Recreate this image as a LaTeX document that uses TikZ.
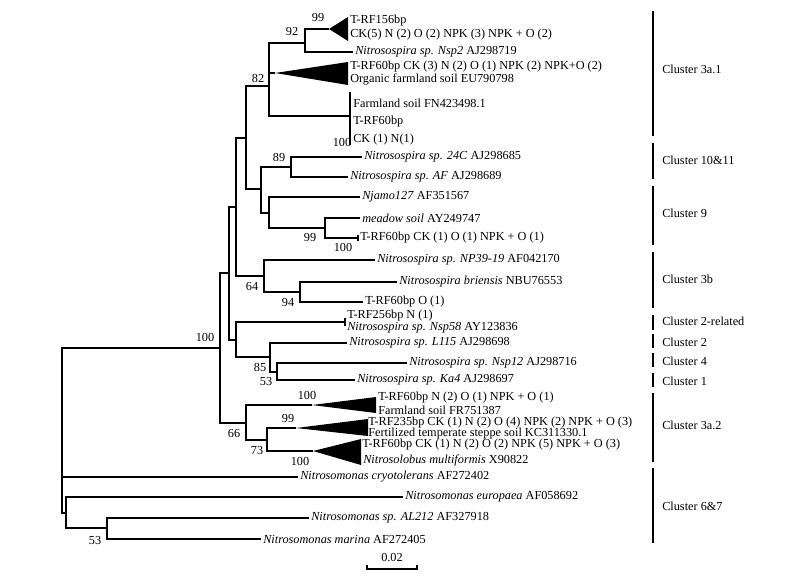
\documentclass[tikz,border=0pt]{standalone}
\usepackage{fontspec}
\setmainfont{Liberation Serif}
\tikzstyle{branch}=[line width=1.2pt]
\tikzstyle{leaf}=[anchor=west,inner sep=1.5pt]
\tikzstyle{boot}=[inner sep=0pt]
\tikzstyle{wedge}=[fill=black]
\tikzstyle{clbar}=[line width=1.3pt]
\tikzstyle{cltext}=[anchor=west,inner sep=0pt]

\begin{document}
\begin{tikzpicture}[x=0.75pt,y=-0.75pt,font=\fontsize{9.2}{11}\selectfont]
\useasboundingbox (0,0) rectangle (800,588);

% internal nodes
\coordinate (root) at (62,430);
\coordinate (nsp) at (220,348);
\coordinate (a229) at (229,273);
\coordinate (a236) at (236,207);
\coordinate (a246) at (246,138);
\coordinate (n82) at (269,86);
\coordinate (n92) at (305,43);
\coordinate (f100) at (350,116);
\coordinate (f100t) at (350,92);
\coordinate (f100b) at (350,145);
\coordinate (a261) at (261,189);
\coordinate (n89) at (291,167);
\coordinate (a269) at (269,213);
\coordinate (n99) at (325,228);
\coordinate (n64) at (264,276);
\coordinate (n94) at (300,292);
\coordinate (c236) at (236,340);
\coordinate (n85) at (270,357);
\coordinate (n53) at (277,372);
\coordinate (n66) at (246,423);
\coordinate (n73) at (267,440);
\coordinate (n66b) at (66,513);
\coordinate (m53) at (107,528);

% collapsed subtrees
\coordinate (triA) at (329,29);
\coordinate (triB) at (275,73);
\coordinate (tri1) at (312,405);
\coordinate (tri2) at (296,428);
\coordinate (tri3) at (313,451);
\fill[wedge] (triA) -- (348,17) -- (348,41) -- cycle;
\fill[wedge] (triB) -- (348,62) -- (348,85) -- cycle;
\fill[wedge] (tri1) -- (376,397) -- (376,413) -- cycle;
\fill[wedge] (tri2) -- (368,419) -- (368,436) -- cycle;
\fill[wedge] (tri3) -- (361,439) -- (361,465) -- cycle;

% leaves
\node[leaf] (triAa) at (348,21) {T-RF156bp};
\node[leaf] (triAb) at (348,35) {CK(5) N (2) O (2) NPK (3) NPK + O (2)};
\node[leaf] (nsp2) at (353,52) {\textit{Nitrosospira sp. Nsp2} AJ298719};
\node[leaf] (triBa) at (348,67) {T-RF60bp CK (3) N (2) O (1) NPK (2) NPK+O (2)};
\node[leaf] (triBb) at (348,80) {Organic farmland soil EU790798};
\node[leaf] (farm) at (351,103) {Farmland soil FN423498.1};
\node[leaf] (farmb) at (351,122) {T-RF60bp};
\node[leaf] (farmc) at (351,140) {CK (1) N(1)};
\node[leaf] (s24c) at (362,157) {\textit{Nitrosospira sp. 24C} AJ298685};
\node[leaf] (saf) at (348,177) {\textit{Nitrosospira sp. AF} AJ298689};
\node[leaf] (njamo) at (360,197) {\textit{Njamo127} AF351567};
\node[leaf] (meadow) at (360,218) {\textit{meadow soil} AY249747};
\node[leaf] (trfck) at (358,238) {T-RF60bp CK (1) O (1) NPK + O (1)};
\node[leaf] (np39) at (375,260) {\textit{Nitrosospira sp. NP39-19} AF042170};
\node[leaf] (brien) at (397,282) {\textit{Nitrosospira briensis} NBU76553};
\node[leaf] (trfo) at (363,302) {T-RF60bp O (1)};
\coordinate (trf256) at (345,322);
\node[leaf] (trf256a) at (345,316) {T-RF256bp N (1)};
\node[leaf] (trf256b) at (345,328) {\textit{Nitrosospira sp. Nsp58} AY123836};
\node[leaf] (l115) at (347,343) {\textit{Nitrosospira sp. L115} AJ298698};
\node[leaf] (nsp12) at (407,363) {\textit{Nitrosospira sp. Nsp12} AJ298716};
\node[leaf] (ka4) at (355,380) {\textit{Nitrosospira sp. Ka4} AJ298697};
\node[leaf] (tri1a) at (376,398) {T-RF60bp N (2) O (1) NPK + O (1)};
\node[leaf] (tri1b) at (376,410) {Farmland soil FR751387};
\node[leaf] (tri2a) at (366,423) {T-RF235bp CK (1) N (2) O (4) NPK (2) NPK + O (3)};
\node[leaf] (tri2b) at (366,434) {Fertilized temperate steppe soil KC311330.1};
\node[leaf] (tri3a) at (360,445) {T-RF60bp CK (1) N (2) O (2) NPK (5) NPK + O (3)};
\node[leaf] (tri3b) at (361,460) {\textit{Nitrosolobus multiformis} X90822};
\node[leaf] (cryo) at (298,477) {\textit{Nitrosomonas cryotolerans} AF272402};
\node[leaf] (europ) at (403,497) {\textit{Nitrosomonas europaea} AF058692};
\node[leaf] (al212) at (309,518) {\textit{Nitrosomonas sp. AL212} AF327918};
\node[leaf] (marina) at (261,539) {\textit{Nitrosomonas marina} AF272405};

% branches
\draw[branch] (root) |- (nsp);
\draw[branch] (root) |- (cryo.west);
\draw[branch] (root) |- (n66b);
\draw[branch] (nsp) |- (a229);
\draw[branch] (nsp) |- (n66);
\draw[branch] (a229) |- (a236);
\draw[branch] (a229) |- (c236);
\draw[branch] (a236) |- (a246);
\draw[branch] (a236) |- (n64);
\draw[branch] (a246) |- (n82);
\draw[branch] (a246) |- (a261);
\draw[branch] (n82) |- (n92);
\draw[branch] (n82) |- (triB);
\draw[branch] (n82) |- (f100);
\draw[branch] (f100t) -- (f100b);
\draw[branch] (n92) |- (triA);
\draw[branch] (n92) |- (nsp2.west);
\draw[branch] (a261) |- (n89);
\draw[branch] (a261) |- (a269);
\draw[branch] (n89) |- (s24c.west);
\draw[branch] (n89) |- (saf.west);
\draw[branch] (a269) |- (njamo.west);
\draw[branch] (a269) |- (n99);
\draw[branch] (n99) |- (meadow.west);
\draw[branch] (n99) |- (trfck.west);
\draw[branch] ([yshift=-2.5pt]trfck.west) -- ([yshift=2.5pt]trfck.west);
\draw[branch] (n64) |- (np39.west);
\draw[branch] (n64) |- (n94);
\draw[branch] (n94) |- (brien.west);
\draw[branch] (n94) |- (trfo.west);
\draw[branch] (c236) |- (trf256);
\draw[branch] ([yshift=-3pt]trf256) -- ([yshift=3pt]trf256);
\draw[branch] (c236) |- (n85);
\draw[branch] (n85) |- (l115.west);
\draw[branch] (n85) |- (n53);
\draw[branch] (n53) |- (nsp12.west);
\draw[branch] (n53) |- (ka4.west);
\draw[branch] (n66) |- (tri1);
\draw[branch] (n66) |- (n73);
\draw[branch] (n73) |- (tri2);
\draw[branch] (n73) |- (tri3);
\draw[branch] (n66b) |- (europ.west);
\draw[branch] (n66b) |- (m53);
\draw[branch] (m53) |- (al212.west);
\draw[branch] (m53) |- (marina.west);

% bootstrap values
\node[boot] (b99a) at (318,18) {99};
\node[boot] (b92) at (292,32) {92};
\node[boot] (b82) at (258,78) {82};
\node[boot] (b100f) at (342,142) {100};
\node[boot] (b89) at (279,157) {89};
\node[boot] (b99m) at (310,237) {99};
\node[boot] (b100m) at (343,247) {100};
\node[boot] (b64) at (252,286) {64};
\node[boot] (b94) at (288,302) {94};
\node[boot] (b100) at (205,337) {100};
\node[boot] (b85) at (260,367) {85};
\node[boot] (b53) at (266,381) {53};
\node[boot] (b100t) at (307,395) {100};
\node[boot] (b99t) at (288,418) {99};
\node[boot] (b66) at (234,433) {66};
\node[boot] (b73) at (257,450) {73};
\node[boot] (b100b) at (300,461) {100};
\node[boot] (b53m) at (95,540) {53};

% scale bar
\coordinate (sbl) at (367,569);
\coordinate (sbr) at (417,569);
\draw[line width=0.8pt] ([yshift=3pt]sbl) -- (sbl) -- (sbr) -- ([yshift=3pt]sbr);
\node[boot] (sblab) at (392,558) {0.02};

% clusters
\draw[clbar] (653,11) -- (653,136);
\node[cltext] (c3a1) at (662,69) {Cluster 3a.1};
\draw[clbar] (653,143) -- (653,179);
\node[cltext] (c1011) at (662,160) {Cluster 10\&11};
\draw[clbar] (653,186) -- (653,245);
\node[cltext] (c9) at (662,213) {Cluster 9};
\draw[clbar] (653,252) -- (653,308);
\node[cltext] (c3b) at (662,279) {Cluster 3b};
\draw[clbar] (653,315) -- (653,330);
\node[cltext] (c2r) at (662,321) {Cluster 2-related};
\draw[clbar] (653,334) -- (653,348);
\node[cltext] (c2) at (662,342) {Cluster 2};
\draw[clbar] (653,353) -- (653,367);
\node[cltext] (c4) at (662,361) {Cluster 4};
\draw[clbar] (653,373) -- (653,387);
\node[cltext] (c1) at (662,381) {Cluster 1};
\draw[clbar] (653,393) -- (653,462);
\node[cltext] (c3a2) at (662,425) {Cluster 3a.2};
\draw[clbar] (653,468) -- (653,543);
\node[cltext] (c67) at (662,506) {Cluster 6\&7};
\end{tikzpicture}
\end{document}
